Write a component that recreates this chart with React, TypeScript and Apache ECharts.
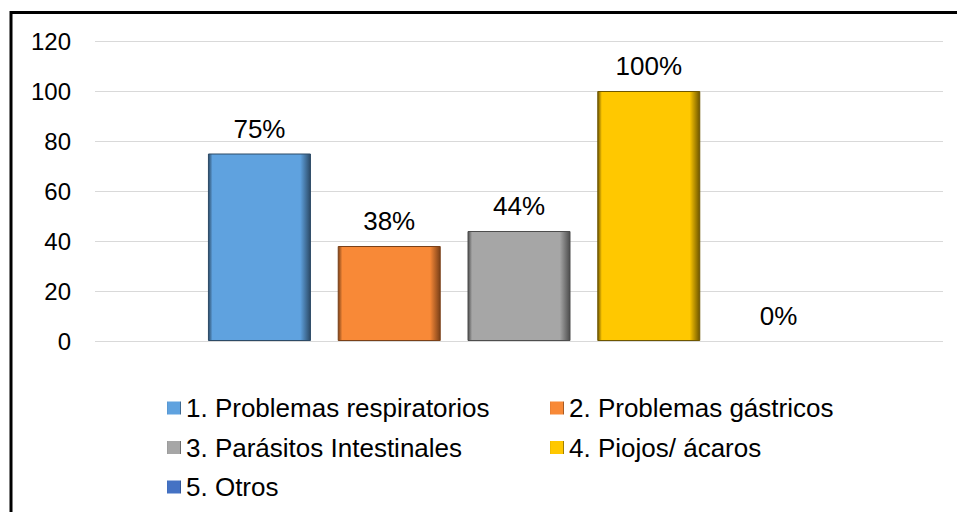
import React, { useEffect, useRef } from "react";
import * as echarts from "echarts";

const categories = ["Total"];
const seriesNames = [
  "1. Problemas respiratorios",
  "2. Problemas gástricos",
  "3. Parásitos Intestinales",
  "4. Piojos/ ácaros",
  "5. Otros",
];
const seriesValues = [75, 38, 44, 100, 0];
const baseColors = ["#5FA2DF", "#F88937", "#A6A6A6", "#FFC800", "#4472C4"];
const edgeColors = ["#2C4A66", "#7A4018", "#4D4D4D", "#6E5600", "#2A4780"];
const yTicks = { min: 0, max: 120, interval: 20 };

const FONT = "'Liberation Sans', Arial, sans-serif";

export default function App() {
  const ref = useRef<HTMLDivElement>(null);
  useEffect(() => {
    if (!ref.current) return;
    const chart = echarts.init(ref.current, undefined, { renderer: "svg" });
    const series = seriesNames.map((name, i) => ({
      name,
      type: "bar",
      data: [seriesValues[i]],
      barWidth: 103,
      barGap: "26%",
      itemStyle: {
        color: new echarts.graphic.LinearGradient(0, 0, 1, 0, [
          { offset: 0, color: edgeColors[i] },
          { offset: 0.04, color: baseColors[i] },
          { offset: 0.9, color: baseColors[i] },
          { offset: 1, color: edgeColors[i] },
        ]),
        borderColor: edgeColors[i],
        borderWidth: seriesValues[i] > 0 ? 1 : 0,
      },
      label: {
        show: true,
        position: "top",
        distance: 12,
        formatter: (p: any) => p.value + "%",
        color: "#000",
        fontSize: 26,
        fontFamily: FONT,
      },
    }));
    const legendCommon = {
      orient: "vertical",
      itemWidth: 14,
      itemHeight: 13,
      itemGap: 13.5,
      icon: "rect",
      itemStyle: { borderWidth: 0 },
      textStyle: { fontSize: 26, fontFamily: FONT, color: "#000", lineHeight: 26 },
    };
    chart.setOption({
      animation: false,
      textStyle: { fontFamily: FONT },
      grid: { left: 95, right: 14, top: 41, bottom: 171 },
      xAxis: {
        type: "category",
        data: categories,
        axisLine: { show: false },
        axisTick: { show: false },
        axisLabel: { show: false },
      },
      yAxis: {
        type: "value",
        min: yTicks.min,
        max: yTicks.max,
        interval: yTicks.interval,
        axisLine: { show: false },
        axisTick: { show: false },
        axisLabel: { color: "#000", fontSize: 24, fontFamily: FONT, margin: 24 },
        splitLine: { lineStyle: { color: "#D9D9D9", width: 1 } },
      },
      legend: [
        { ...legendCommon, left: 162, top: 390, data: [seriesNames[0], seriesNames[2], seriesNames[4]] },
        { ...legendCommon, left: 545, top: 390, data: [seriesNames[1], seriesNames[3]] },
      ],
      graphic: [
        {
          type: "rect",
          shape: { x: 11, y: 12.5, width: 1000, height: 1000 },
          style: { fill: "none", stroke: "#000", lineWidth: 3 },
          silent: true,
        },
      ],
      series,
    });
    return () => chart.dispose();
  }, []);
  return (
    <div
      ref={ref}
      style={{ position: "fixed", left: 0, top: 0, width: 957, height: 512, background: "#fff" }}
    />
  );
}
